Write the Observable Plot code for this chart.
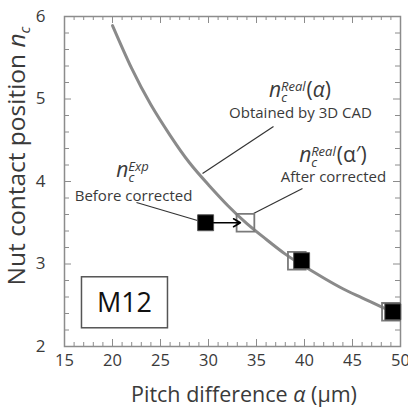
<!DOCTYPE html>
<html><head><meta charset="utf-8">
<script src="https://cdn.jsdelivr.net/npm/d3@7"></script>
<script src="https://cdn.jsdelivr.net/npm/@observablehq/plot@0.6"></script>
<style>body{margin:0;background:#fff;}</style>
</head><body><div id="chart"></div>
<script>
// Curve n_c^Real(alpha) obtained by 3D CAD
const curveAlpha = [20, 22, 24, 26, 28, 30, 32, 34, 36, 38, 40, 42, 44, 46, 48, 49.5];
const curveNc    = [5.89, 5.37, 4.93, 4.56, 4.23, 3.96, 3.71, 3.49, 3.30, 3.12, 2.97, 2.83, 2.70, 2.59, 2.48, 2.41];
// Experimental points (filled) and corrected points (open)
const expAlpha  = [29.7, 39.7, 49.2];
const expNc     = [3.50, 3.04, 2.42];
const corrAlpha = [33.85, 39.2, 49.0];
const corrNc    = [3.50, 3.04, 2.42];
// Axis ticks
const xMajor = [15, 20, 25, 30, 35, 40, 45, 50];
const xMinor = [16,17,18,19,21,22,23,24,26,27,28,29,31,32,33,34,36,37,38,39,41,42,43,44,46,47,48,49];
const yMajor = [2, 3, 4, 5, 6];
const yMinor = [2.2,2.4,2.6,2.8,3.2,3.4,3.6,3.8,4.2,4.4,4.6,4.8,5.2,5.4,5.6,5.8];
// Callout lines (start -> end, data coordinates)
const calloutX1 = [22.5, 36.77, 39.79];
const calloutY1 = [3.745, 4.667, 3.915];
const calloutX2 = [28.85, 29.38, 34.69];
const calloutY2 = [3.527, 4.097, 3.612];
// Plain annotation notes
const noteText  = ["Obtained by 3D CAD", "After corrected", "Before corrected"];
const noteAlpha = [39.58, 43.02, 22.19];
const noteNc    = [4.767, 3.988, 3.761];
// Symbol annotations n_c^sup(arg)
const symSup   = ["Real", "Real", "Exp"];
const symArg   = ["α", "α\u2032", ""];
const symAlpha = [39.58, 43.02, 22.14];
const symNc    = [5.018, 4.23, 4.048];
// Specimen box
const boxLabel = ["M12"];
const boxAlpha = [21.3];
const boxNc    = [2.53];

const W = 408, H = 412, mL = 64, mR = 8, mT = 16, mB = 66;
const pW = W - mL - mR, pH = H - mT - mB;
const ink = "#3a3a3a", frameCol = "#8c8c8c";

const curve = curveAlpha.map((a, i) => ({a, n: curveNc[i]}));
const expPts = expAlpha.map((a, i) => ({a, n: expNc[i]}));
const corrPts = corrAlpha.map((a, i) => ({a, n: corrNc[i]}));
const callouts = calloutX1.map((x1, i) => ({x1, y1: calloutY1[i], x2: calloutX2[i], y2: calloutY2[i]}));
const notes = noteText.map((t, i) => ({t, a: noteAlpha[i], n: noteNc[i]}));
const arrowData = [{x1: expAlpha[0], x2: corrAlpha[0], y: expNc[0]}];

const plot = Plot.plot({
  width: W, height: H,
  marginLeft: mL, marginRight: mR, marginTop: mT, marginBottom: mB,
  x: {domain: [15, 50]},
  y: {domain: [2, 6]},
  style: {fontFamily: "'Open Sans', sans-serif", color: ink, background: "#fff", overflow: "visible"},
  marks: [
    // inward ticks on all four sides
    Plot.tickX(xMinor, {x: d => d, insetTop: pH - 4, stroke: frameCol}),
    Plot.tickX(xMinor, {x: d => d, insetBottom: pH - 4, stroke: frameCol}),
    Plot.tickX(xMajor, {x: d => d, insetTop: pH - 7, stroke: frameCol}),
    Plot.tickX(xMajor, {x: d => d, insetBottom: pH - 7, stroke: frameCol}),
    Plot.tickY(yMinor, {y: d => d, insetRight: pW - 5, stroke: frameCol}),
    Plot.tickY(yMinor, {y: d => d, insetLeft: pW - 5, stroke: frameCol}),
    Plot.tickY(yMajor, {y: d => d, insetRight: pW - 7, stroke: frameCol}),
    Plot.tickY(yMajor, {y: d => d, insetLeft: pW - 7, stroke: frameCol}),
    Plot.frame({stroke: frameCol, strokeWidth: 1.5}),
    Plot.axisX(xMajor, {tickSize: 0, tickPadding: 8, fontSize: 16.5, label: null, tickFormat: d => String(d)}),
    Plot.axisY(yMajor, {tickSize: 0, tickPadding: 19, fontSize: 17, label: null, tickFormat: d => String(d)}),
    // callout lines
    Plot.link(callouts, {x1: "x1", y1: "y1", x2: "x2", y2: "y2", stroke: "#333", strokeWidth: 1.2}),
    // curve
    Plot.line(curve, {x: "a", y: "n", curve: "natural", stroke: "#8a8a8a", strokeWidth: 3}),
    // corrected (open) squares
    Plot.dot(corrPts, {x: "a", y: "n", symbol: "square", r: 10, fill: "none", stroke: "#7a7a7a", strokeWidth: 1.8}),
    // experimental (filled) squares
    Plot.dot(expPts, {x: "a", y: "n", symbol: "square", r: 9, fill: "#000", stroke: "#555", strokeWidth: 1}),
    // correction arrow
    Plot.arrow(arrowData, {x1: "x1", x2: "x2", y1: "y", y2: "y", insetStart: 8, insetEnd: 5, stroke: "#000", strokeWidth: 1.5, headLength: 8}),
    // plain notes
    Plot.text(notes, {x: "a", y: "n", text: "t", lineAnchor: "bottom", fontSize: 15, fill: ink})
  ]
});
document.getElementById("chart").appendChild(plot);

const svg = d3.select(plot);
const sx = plot.scale("x"), sy = plot.scale("y");
const g = svg.append("g").attr("font-family", "'Open Sans', sans-serif").attr("fill", ink);

// symbol annotations
symSup.forEach((sup, i) => {
  const t = g.append("text").attr("x", sx.apply(symAlpha[i])).attr("y", sy.apply(symNc[i]))
    .attr("text-anchor", "middle").attr("font-size", 21);
  t.append("tspan").attr("font-style", "italic").text("n");
  t.append("tspan").attr("font-style", "italic").attr("font-size", 13).attr("dy", 5).text("c");
  t.append("tspan").attr("font-style", "italic").attr("font-size", 13).attr("dx", -6).attr("dy", -11).text(sup);
  if (symArg[i]) {
    t.append("tspan").attr("dy", 6).attr("dx", 1).text("(");
    t.append("tspan").attr("font-style", i === 0 ? "italic" : "normal").text(symArg[i]);
    t.append("tspan").text(")");
  }
});

// M12 box
boxLabel.forEach((lab, i) => {
  const cx = sx.apply(boxAlpha[i]), cy = sy.apply(boxNc[i]);
  g.append("rect").attr("x", cx - 43).attr("y", cy - 25.5).attr("width", 86).attr("height", 51)
    .attr("fill", "#fff").attr("stroke", "#555").attr("stroke-width", 1.5);
  g.append("text").attr("x", cx).attr("y", cy).attr("dy", "0.35em").attr("text-anchor", "middle")
    .attr("font-size", 27).attr("fill", "#111").text(lab);
});

// axis titles
const xt = g.append("text").attr("x", 244).attr("y", H - 10).attr("text-anchor", "middle").attr("font-size", 21.5);
xt.append("tspan").text("Pitch difference ");
xt.append("tspan").attr("font-style", "italic").text("α");
xt.append("tspan").text(" (μm)");

const yt = g.append("text").attr("transform", `translate(25,156) rotate(-90)`).attr("text-anchor", "middle").attr("font-size", 24.5);
yt.append("tspan").text("Nut contact position ");
yt.append("tspan").attr("font-style", "italic").text("n");
yt.append("tspan").attr("font-style", "italic").attr("font-size", 15).attr("dy", 5).text("c");
</script>
</body></html>
